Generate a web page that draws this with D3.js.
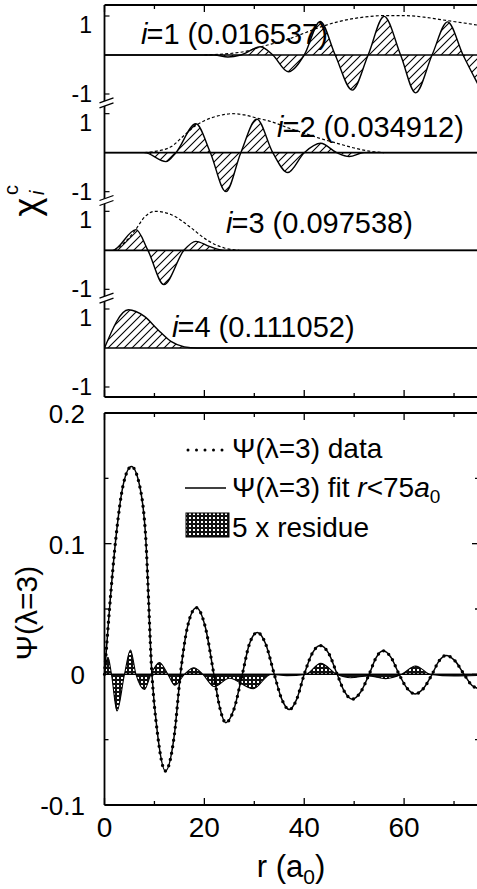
<!DOCTYPE html>
<html>
<head>
<meta charset="utf-8">
<script src="https://cdn.jsdelivr.net/npm/d3@7"></script>
<style>
  html, body { margin: 0; padding: 0; background: #fff; }
  svg { display: block; }
  text { font-family: "Liberation Sans", Arial, Helvetica, sans-serif; fill: #000; }
</style>
</head>
<body>
<svg id="chart" width="477" height="889"></svg>
<script>
// ---- Channel functions chi_i^c (normalised), radial grid r in a0 ----
const chi1R = [0, 22, 24.7, 27.3, 31.2, 33.7, 36.8, 40.0, 43.2, 46.2, 49.6, 52.8, 56.0, 59.3, 62.3, 65.6, 68.7, 71.8, 75.0];
const chi1V = [0, 0, -0.05, 0, 0.21, 0, -0.43, 0, 0.86, 0, -0.9, 0, 0.99, 0, -0.97, 0, 0.85, 0, -0.8];
const chi2R = [0, 8, 12.3, 14.3, 18.3, 21.2, 24.3, 27.3, 30.5, 33.7, 36.7, 40.0, 43.3, 46.5, 49.0, 52.0, 75];
const chi2V = [0, 0, -0.23, 0, 0.74, 0, -1.0, 0, 0.86, 0, -0.51, 0, 0.24, 0, -0.1, 0, 0];
const chi3R = [0, 1.6, 6.3, 8.7, 11.9, 15.9, 18.3, 21.0, 24.0, 75];
const chi3V = [0, 0, 0.53, 0, -0.88, 0, 0.23, 0.1, 0, 0];
const chi4R = [0, 4.8, 8.0, 10.7, 13.3, 16.0, 18.5, 75];
const chi4V = [0, 0.98, 0.81, 0.47, 0.17, 0.03, 0, 0];

// envelopes (dashed) of channels 1-3
const env1R = [20, 22, 26, 28.5, 31.3, 36, 40, 43.3, 46.7, 50.7, 56, 60, 64, 68.7, 72, 75];
const env1V = [0, 0.01, 0.05, 0.1, 0.21, 0.37, 0.56, 0.72, 0.85, 0.95, 1.01, 1.01, 0.97, 0.88, 0.82, 0.76];
const env2R = [8, 10, 13.3, 16, 18.3, 20, 23.3, 25.5, 28, 30.7, 33.3, 36.7, 40, 43.3, 46.6, 50, 53, 56];
const env2V = [0, 0.03, 0.15, 0.45, 0.7, 0.82, 0.96, 1.0, 0.97, 0.88, 0.8, 0.64, 0.5, 0.36, 0.24, 0.12, 0.04, 0];
const env3R = [2, 4, 6, 8, 10, 12, 13.3, 15, 17.3, 20.7, 24, 27];
const env3V = [0, 0.2, 0.49, 0.85, 1.0, 0.97, 0.92, 0.8, 0.58, 0.25, 0.06, 0];

// channel indices and eigenvalues
const channelIdx = ["1", "2", "3", "4"];
const channelEig = ["0.016537", "0.034912", "0.097538", "0.111052"];

// ---- Psi(lambda=3) ----
const psiR = [0, 1.0, 2.3, 3.8, 5.4, 7.0, 8.2, 9.5, 10.6, 12.2, 14.0, 15.2, 16.6, 18.4, 20.2, 21.9,
  23.0, 24.3, 25.9, 27.6, 29.0, 30.6, 32.3, 34.0, 35.5, 37.0, 38.5, 40.0, 41.6, 43.2, 44.9, 46.6,
  48.1, 49.6, 51.3, 53.0, 54.4, 55.8, 57.4, 59.0, 60.6, 62.2, 63.9, 65.6, 67.0, 68.4, 70.2, 72.0, 73.6, 75.0];
const psiData = [0, 0.05, 0.105, 0.146, 0.159, 0.145, 0.108, 0, -0.045, -0.074, -0.046, 0, 0.036, 0.051, 0.036, 0,
  -0.024, -0.037, -0.027, 0, 0.023, 0.032, 0.023, 0, -0.019, -0.027, -0.019, 0, 0.016, 0.022, 0.016, 0,
  -0.0135, -0.019, -0.0135, 0, 0.0128, 0.018, 0.0128, 0, -0.0107, -0.015, -0.0107, 0, 0.0103, 0.0145, 0.0103, 0, -0.0085, -0.011];
// the r < 75 a0 fit lies on top of the data at this scale
const psiFit = psiData;

// 5 x residue
const resR = [0, 0.7, 1.4, 2.5, 4.0, 5.2, 6.3, 8.0, 9.3, 11.0, 12.7, 14.1, 16.0, 17.9, 19.7, 22.0, 25.0, 29.8,
  33.3, 36.5, 40.3, 43.3, 46.5, 49.3, 52.8, 56.3, 59.5, 62.3, 65.3, 70.0, 75.0];
const resV = [0, 0.013, 0, -0.028, 0, 0.0186, 0, -0.0115, 0, 0.009, 0, -0.0084, 0, 0.005, 0, -0.0094, -0.003, -0.011,
  0, -0.001, 0, 0.0084, 0, -0.0026, -0.0012, -0.0033, 0, 0.0064, 0, -0.0012, -0.0008];

// ticks
const xMajor = [0, 20, 40, 60];
const xMinor = [10, 30, 50, 70];
const psiMajor = [-0.1, 0, 0.1, 0.2];
const psiMinor = [-0.05, 0.05, 0.15];
const psiTickLabels = ["-0.1", "0", "0.1", "0.2"];

// ---------------------------------------------------------------
const svg = d3.select("#chart");
const zip = (R, V) => R.map((r, i) => [r, V[i]]);

const X0 = 104.5, X1 = 479;
const x = d3.scaleLinear().domain([0, 75]).range([X0, X1]);

// upper panel: four stacked strips
const TOP0 = 5, TOP1 = 397;
const stack = d3.scaleLinear().domain([0, 3]).range([55, 348]);
const chiY = k => d3.scaleLinear().domain([-1, 1]).range([stack(k) + 39, stack(k) - 39]);

// lower panel
const BOT0 = 413, BOT1 = 805;
const yPsi = d3.scaleLinear().domain([-0.1, 0.2]).range([BOT1, BOT0]);

const defs = svg.append("defs");
const hatch = defs.append("pattern").attr("id", "hatch")
  .attr("patternUnits", "userSpaceOnUse").attr("width", 8).attr("height", 8);
hatch.append("path").attr("d", "M-2,2 L2,-2 M0,8 L8,0 M6,10 L10,6")
  .attr("stroke", "#000").attr("stroke-width", 1.1);

// dark mesh with light holes for the residue
const mesh = defs.append("pattern").attr("id", "mesh")
  .attr("patternUnits", "userSpaceOnUse").attr("width", 4).attr("height", 4);
mesh.append("rect").attr("width", 4).attr("height", 4).attr("fill", "#111");
mesh.append("rect").attr("x", 1).attr("y", 1).attr("width", 2).attr("height", 2).attr("fill", "#fff");

// ---- upper panel ----
const topG = svg.append("g");

// strip labels (drawn first, curves pass over them)
const labelPos = [[141, 43.5], [277, 136.5], [226, 233], [172, 337]];
channelIdx.forEach((c, k) => {
  const t = topG.append("text").attr("x", labelPos[k][0]).attr("y", labelPos[k][1])
    .attr("font-size", 29);
  t.append("tspan").attr("font-style", "italic").text("i");
  t.append("tspan").attr("dx", -1).text("=" + c + " (" + channelEig[k] + ")");
});

const chiSeries = [
  { R: chi1R, V: chi1V, eR: env1R, eV: env1V },
  { R: chi2R, V: chi2V, eR: env2R, eV: env2V },
  { R: chi3R, V: chi3V, eR: env3R, eV: env3V },
  { R: chi4R, V: chi4V, eR: null, eV: null }
];

chiSeries.forEach((s, k) => {
  const y = chiY(k);
  const pts = zip(s.R, s.V);
  topG.append("path").datum(pts)
    .attr("d", d3.area().x(d => x(d[0])).y0(y(0)).y1(d => y(d[1])).curve(d3.curveMonotoneX))
    .attr("fill", "url(#hatch)");
  topG.append("line").attr("x1", X0).attr("x2", X1).attr("y1", y(0)).attr("y2", y(0))
    .attr("stroke", "#000").attr("stroke-width", 1.7);
  topG.append("path").datum(pts)
    .attr("d", d3.line().x(d => x(d[0])).y(d => y(d[1])).curve(d3.curveMonotoneX))
    .attr("fill", "none").attr("stroke", "#000").attr("stroke-width", 1.4);
  if (s.eR) {
    topG.append("path").datum(zip(s.eR, s.eV))
      .attr("d", d3.line().x(d => x(d[0])).y(d => y(d[1])).curve(d3.curveMonotoneX))
      .attr("fill", "none").attr("stroke", "#000").attr("stroke-width", 1.2)
      .attr("stroke-dasharray", "3,2.2");
  }
  // +-1 ticks and labels
  [1, -1].forEach(v => {
    topG.append("line").attr("x1", X0).attr("x2", X0 + 5).attr("y1", y(v)).attr("y2", y(v))
      .attr("stroke", "#000").attr("stroke-width", 1.2);
    topG.append("text").attr("x", 92).attr("y", y(v) + (v > 0 ? 17 : 8))
      .attr("text-anchor", "end").attr("font-size", 23).text(String(v));
  });
});

// frame of upper panel
topG.append("line").attr("x1", X0).attr("x2", X1).attr("y1", TOP0).attr("y2", TOP0)
  .attr("stroke", "#000").attr("stroke-width", 1.8);
topG.append("line").attr("x1", X0).attr("x2", X1).attr("y1", TOP1).attr("y2", TOP1)
  .attr("stroke", "#000").attr("stroke-width", 1.8);
topG.append("line").attr("x1", X0).attr("x2", X0).attr("y1", TOP0).attr("y2", TOP1)
  .attr("stroke", "#000").attr("stroke-width", 1.8);

// axis breaks between strips
[0, 1, 2].forEach(k => {
  const b = (stack(k) + stack(k + 1)) / 2;
  topG.append("path")
    .attr("d", `M${X0 - 5},${b - 1} L${X0 + 9},${b - 6} L${X0 + 9},${b - 1} L${X0 - 5},${b + 4} Z`)
    .attr("fill", "#fff");
  topG.append("path")
    .attr("d", `M${X0 - 5},${b - 1} L${X0 + 9},${b - 6} M${X0 - 5},${b + 4} L${X0 + 9},${b - 1}`)
    .attr("stroke", "#000").attr("stroke-width", 1.3).attr("fill", "none");
});

// x ticks on both horizontal edges of each panel
function xTicks(g, yEdge, dir) {
  xMajor.concat(xMinor).forEach(v => {
    const len = xMajor.includes(v) ? 7 : 4;
    g.append("line").attr("x1", x(v)).attr("x2", x(v))
      .attr("y1", yEdge).attr("y2", yEdge + dir * len)
      .attr("stroke", "#000").attr("stroke-width", 1.3);
  });
}
xTicks(topG, TOP0, 1);
xTicks(topG, TOP1, -1);

// chi axis title
const chiT = svg.append("g").attr("transform", "translate(39,207) rotate(-90)");
chiT.append("text").attr("text-anchor", "middle").attr("font-size", 36).text("\u03c7");
chiT.append("text").attr("x", 12).attr("y", -21).attr("font-size", 20).text("c");
chiT.append("text").attr("x", 12).attr("y", 5).attr("font-size", 20).attr("font-style", "italic").text("i");

// ---- lower panel ----
const bot = svg.append("g");

bot.append("path").datum(zip(resR, resV))
  .attr("d", d3.area().x(d => x(d[0])).y0(yPsi(0)).y1(d => yPsi(d[1])).curve(d3.curveMonotoneX))
  .attr("fill", "url(#mesh)").attr("stroke", "#000").attr("stroke-width", 1.1);
bot.append("line").attr("x1", X0).attr("x2", X1).attr("y1", yPsi(0)).attr("y2", yPsi(0))
  .attr("stroke", "#000").attr("stroke-width", 1.4);

const psiLine = d3.line().x(d => x(d[0])).y(d => yPsi(d[1])).curve(d3.curveMonotoneX);
bot.append("path").datum(zip(psiR, psiFit)).attr("d", psiLine)
  .attr("fill", "none").attr("stroke", "#000").attr("stroke-width", 1.5);
bot.append("path").datum(zip(psiR, psiData)).attr("d", psiLine)
  .attr("fill", "none").attr("stroke", "#000").attr("stroke-width", 3.4)
  .attr("stroke-linecap", "round").attr("stroke-dasharray", "0,6.5");

// frame
[[X0, BOT0, X1, BOT0], [X0, BOT1, X1, BOT1], [X0, BOT0, X0, BOT1], [X1, BOT0, X1, BOT1]].forEach(l => {
  bot.append("line").attr("x1", l[0]).attr("y1", l[1]).attr("x2", l[2]).attr("y2", l[3])
    .attr("stroke", "#000").attr("stroke-width", 1.8);
});
xTicks(bot, BOT0, 1);
xTicks(bot, BOT1, -1);

psiMajor.concat(psiMinor).forEach(v => {
  const len = psiMajor.includes(v) ? 7 : 4;
  [[X0, 1], [X1, -1]].forEach(([xe, dir]) => {
    bot.append("line").attr("x1", xe).attr("x2", xe + dir * len)
      .attr("y1", yPsi(v)).attr("y2", yPsi(v))
      .attr("stroke", "#000").attr("stroke-width", 1.3);
  });
});
psiMajor.forEach((v, i) => {
  bot.append("text").attr("x", 85).attr("y", yPsi(v)).attr("dy", "0.38em")
    .attr("text-anchor", "end").attr("font-size", 26).text(psiTickLabels[i]);
});
xMajor.forEach(v => {
  bot.append("text").attr("x", x(v)).attr("y", 837)
    .attr("text-anchor", "middle").attr("font-size", 28).text(String(v));
});

// x title
const xt = svg.append("text").attr("x", 291).attr("y", 877).attr("text-anchor", "middle").attr("font-size", 31);
xt.append("tspan").text("r (a");
xt.append("tspan").attr("font-size", 21).attr("dy", 7).text("0");
xt.append("tspan").attr("dy", -7).text(")");

// psi title
svg.append("text").attr("transform", "translate(37,613) rotate(-90)")
  .attr("text-anchor", "middle").attr("font-size", 30).text("\u03a8(\u03bb=3)");

// legend
const lg = svg.append("g");
lg.append("line").attr("x1", 188).attr("x2", 224).attr("y1", 450).attr("y2", 450)
  .attr("stroke", "#000").attr("stroke-width", 3).attr("stroke-linecap", "round")
  .attr("stroke-dasharray", "0,8.5");
lg.append("line").attr("x1", 185).attr("x2", 226).attr("y1", 488).attr("y2", 488)
  .attr("stroke", "#000").attr("stroke-width", 1.5);
lg.append("rect").attr("x", 186).attr("y", 513).attr("width", 43).attr("height", 24)
  .attr("fill", "url(#mesh)").attr("stroke", "#000").attr("stroke-width", 1);

lg.append("text").attr("x", 232).attr("y", 458).attr("font-size", 28).text("\u03a8(\u03bb=3) data");
const l2 = lg.append("text").attr("x", 232).attr("y", 497).attr("font-size", 28);
l2.append("tspan").text("\u03a8(\u03bb=3) fit ");
l2.append("tspan").attr("font-style", "italic").text("r");
l2.append("tspan").text("<75");
l2.append("tspan").attr("font-style", "italic").text("a");
l2.append("tspan").attr("font-size", 19).attr("dy", 6).text("0");
lg.append("text").attr("x", 232).attr("y", 537).attr("font-size", 28).text("5 x residue");
</script>
</body>
</html>
